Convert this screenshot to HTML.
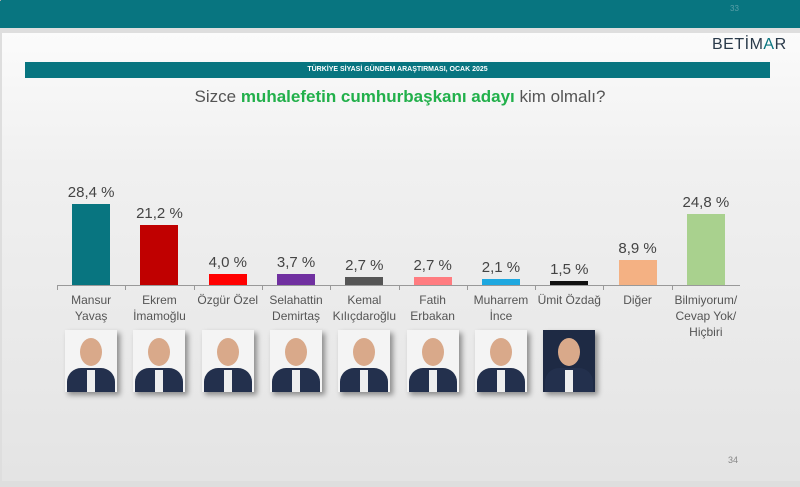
<!DOCTYPE html>
<html><head><meta charset="utf-8"><style>
body{margin:0;width:800px;height:487px;overflow:hidden;background:#dedede;font-family:"Liberation Sans","DejaVu Sans",sans-serif;position:relative}
.top{position:absolute;left:0;top:0;width:800px;height:28px;background:#087580}
.slide{position:absolute;left:2px;top:33px;width:798px;height:448px;background:linear-gradient(#fbfbfb,#f0f0f0 30%,#e4e4e4)}
.abs{position:absolute}
.bar{position:absolute;width:38px;bottom:202px}
.val{position:absolute;width:68px;text-align:center;font-size:15px;color:#444}
.lab{position:absolute;width:72px;text-align:center;font-size:12px;color:#555;line-height:16px;top:292px}
.ph{position:absolute;top:330px;width:52px;height:62px;box-shadow:3px 3px 5px rgba(0,0,0,.4);overflow:hidden;background:#f4f4f4}
.ph .f{position:absolute;left:15px;top:8px;width:22px;height:28px;border-radius:50%;background:#d9a98a}
.ph .s{position:absolute;left:2px;top:38px;width:48px;height:30px;border-radius:14px 14px 0 0;background:#23304d}
.ph .t{position:absolute;left:22px;top:40px;width:8px;height:24px;background:#eee}
</style></head><body>
<div class="top"><span class="abs" style="left:730px;top:4px;font-size:8px;color:#5aa0a8">33</span></div>
<div class="slide"></div>
<div class="abs" style="left:712px;top:36px;font-size:16px;color:#2a3a4a;letter-spacing:0.5px">BETİM<span style="color:#087580">A</span>R</div>
<div class="abs" style="left:25px;top:62px;width:745px;height:16px;background:#087580;color:#fff;font-size:7px;font-weight:bold;text-align:center;line-height:16px">TÜRKİYE SİYASİ GÜNDEM ARAŞTIRMASI, OCAK 2025</div>
<div class="abs" style="left:0;top:87px;width:800px;text-align:center;font-size:17px;color:#555">Sizce <b style="color:#22b04b">muhalefetin cumhurbaşkanı adayı</b> kim olmalı?</div>
<div class="abs" style="left:57px;top:285px;width:683px;height:1px;background:#999"></div>
<div id="c"></div>
<script>
var d=[["28,4 %",28.4,"#087580","Mansur<br>Yavaş",1],["21,2 %",21.2,"#c00000","Ekrem<br>İmamoğlu",1],["4,0 %",4.0,"#ff0000","Özgür Özel",1],["3,7 %",3.7,"#7030a0","Selahattin<br>Demirtaş",1],["2,7 %",2.7,"#555555","Kemal<br>Kılıçdaroğlu",1],["2,7 %",2.7,"#ff7c80","Fatih<br>Erbakan",1],["2,1 %",2.1,"#1ea8e0","Muharrem<br>İnce",1],["1,5 %",1.5,"#111111","Ümit Özdağ",2],["8,9 %",8.9,"#f4b183","Diğer",0],["24,8 %",24.8,"#a9d18e","Bilmiyorum/<br>Cevap Yok/<br>Hiçbiri",0]];
var h="";
for(var i=0;i<10;i++){var x=57+68.3*i,c=x+34.15,ht=d[i][1]*2.85;
h+='<div class="abs" style="left:'+x+'px;top:285px;width:1px;height:5px;background:#999"></div>';
h+='<div class="bar" style="left:'+(c-19)+'px;height:'+ht+'px;background:'+d[i][2]+'"></div>';
h+='<div class="val" style="left:'+(c-34)+'px;top:'+(285-ht-20)+'px">'+d[i][0]+'</div>';
h+='<div class="lab" style="left:'+(c-36)+'px">'+d[i][3]+'</div>';
if(d[i][4])h+='<div class="ph" style="left:'+(c-26)+'px;'+(d[i][4]==2?'background:#1e2a44':'')+'"><div class="f"></div><div class="s"></div><div class="t"></div></div>';}
h+='<div class="abs" style="left:0;top:0;width:1px;height:1px;background:#aaa"></div>';
document.getElementById("c").innerHTML=h;
</script>
<div class="abs" style="left:728px;top:455px;font-size:9px;color:#888">34</div>
</body></html>
